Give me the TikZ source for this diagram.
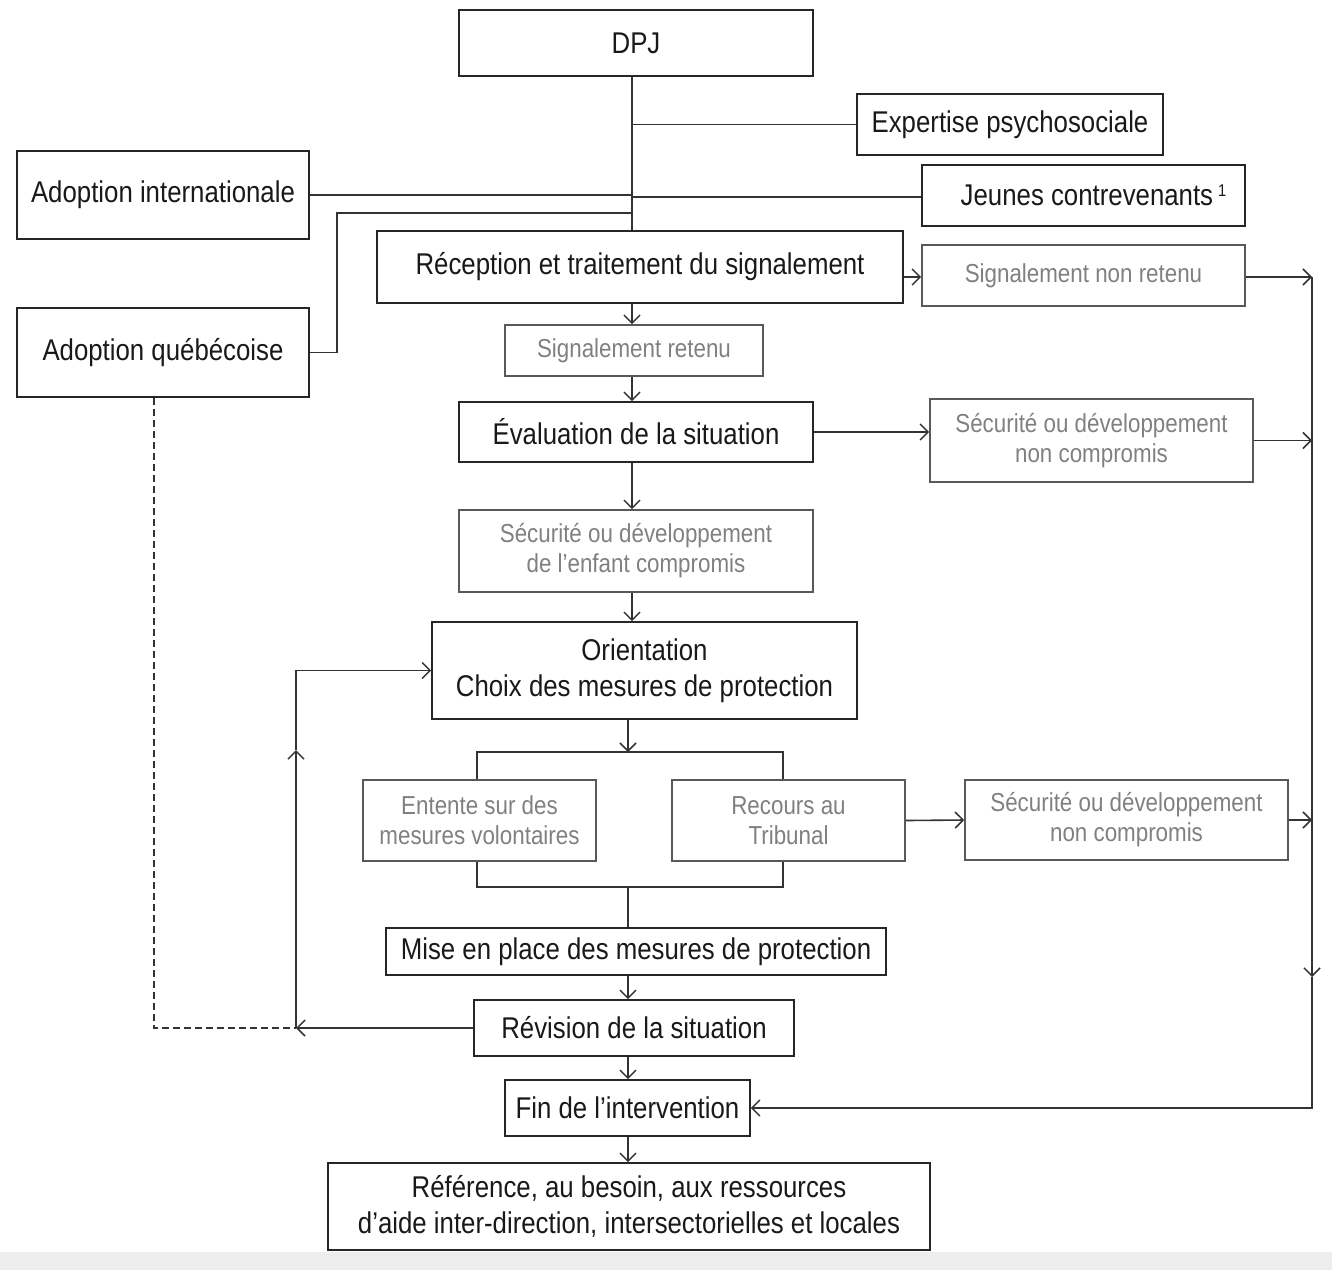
\documentclass[tikz,border=0pt]{standalone}
\usepackage{fontspec}
\setmainfont{Liberation Sans}[FakeStretch=0.86]
\usetikzlibrary{arrows.meta}
\begin{document}
\begin{tikzpicture}[x=1pt,y=-1pt,
  box/.style={draw=black!85, line width=1.6pt, inner sep=0pt, align=center, font=\fontsize{30}{36}\selectfont, text=black!90},
  gbox/.style={draw=black!65, line width=1.6pt, inner sep=0pt, align=center, font=\fontsize{26}{30}\selectfont, text=black!50},
  ln/.style={line width=1.6pt, draw=black!80},
  arr/.style={ln, -{Straight Barb[length=8pt,width=16pt,line width=1.5pt]}},
  dashln/.style={ln, dash pattern=on 7pt off 4pt}]
\useasboundingbox (0,0) rectangle (1332,1270);
\fill[black!7] (0,1252) rectangle (1332,1270);
% nodes
\node[box, minimum width=354pt, minimum height=66pt] (dpj) at (636,43) {DPJ};
\node[box, minimum width=306pt, minimum height=61pt] (exp) at (1010,124.5) {Expertise psychosociale};
\node[box, minimum width=323pt, minimum height=61pt] (jeu) at (1083.5,195.5) {\hspace*{20pt}Jeunes contrevenants\,\raisebox{9pt}{\fontsize{17}{17}\selectfont 1}};
\node[box, minimum width=292pt, minimum height=88pt] (ai) at (163,195) {Adoption internationale};
\node[box, minimum width=292pt, minimum height=89pt] (aq) at (163,352.5) {Adoption québécoise};
\node[box, minimum width=526pt, minimum height=72pt] (rec) at (640,267) {Réception et traitement du signalement};
\node[gbox, minimum width=323pt, minimum height=61pt] (snr) at (1083.5,275.5) {Signalement non retenu};
\node[gbox, minimum width=258pt, minimum height=51pt] (sr) at (634,350.5) {Signalement retenu};
\node[box, minimum width=354pt, minimum height=60pt] (eva) at (636,432) {Évaluation de la situation};
\node[gbox, minimum width=323pt, minimum height=83pt] (snca) at (1091.5,440.5) {Sécurité ou développement\\non compromis};
\node[gbox, minimum width=354pt, minimum height=82pt] (sec) at (636,551) {Sécurité ou développement\\de l’enfant compromis};
\node[box, minimum width=425pt, minimum height=97pt] (ori) at (644.5,670.5) {Orientation\\Choix des mesures de protection};
\node[gbox, minimum width=233pt, minimum height=81pt] (ent) at (479.5,820.5) {Entente sur des\\mesures volontaires};
\node[gbox, minimum width=233pt, minimum height=81pt] (rct) at (788.5,820.5) {Recours au\\Tribunal};
\node[gbox, minimum width=323pt, minimum height=80pt] (sncb) at (1126.5,820) {Sécurité ou développement\\non compromis};
\node[box, minimum width=500pt, minimum height=47pt] (mise) at (636,951.5) {Mise en place des mesures de protection};
\node[box, minimum width=320pt, minimum height=56pt] (rev) at (634,1028) {Révision de la situation};
\node[box, minimum width=245pt, minimum height=56pt] (fin) at (627.5,1108) {Fin de l’intervention};
\node[box, minimum width=602pt, minimum height=87pt] (ref) at (629,1206.5) {Référence, au besoin, aux ressources\\d’aide inter-direction, intersectorielles et locales};
% coordinates
\coordinate (sp) at (632,0);
\coordinate (sl) at (628,0);
\coordinate (R) at (1312,277);
\coordinate (Rm) at (1312,977);
\coordinate (Rb) at (1312,1108);
\coordinate (L) at (296,1028);
\coordinate (Lm) at (296,750);
\coordinate (Lt) at (296,670.5);
\coordinate (bt) at (628,752);
\coordinate (bb) at (628,887);
\coordinate (qa) at (337,213);
\coordinate (dq) at (154,1028);
% top spine
\draw[ln] (dpj.south -| sp) -- (rec.north -| sp);
\draw[ln] (632,124.5) -- (exp.west);
\draw[ln] (ai.east) -- (632,195);
\draw[ln] (632,197) -- (jeu.west |- 0,197);
\draw[ln] (632,213) -- (qa) -- (qa |- aq.east) -- (aq.east);
% main flow
\draw[arr] (rec.south -| sp) -- (sr.north -| sp);
\draw[arr] (sr.south -| sp) -- (eva.north -| sp);
\draw[arr] (eva.south -| sp) -- (sec.north -| sp);
\draw[arr] (sec.south -| sp) -- (ori.north -| sp);
\draw[arr] (ori.south -| sl) -- (bt);
\draw[ln] (ent.north -| 477,0) |- (bt) -| (rct.north -| 783,0);
\draw[ln] (ent.south -| 477,0) |- (bb) -| (rct.south -| 783,0);
\draw[ln] (bb) -- (mise.north -| sl);
\draw[arr] (mise.south -| sl) -- (rev.north -| sl);
\draw[arr] (rev.south -| sl) -- (fin.north -| sl);
\draw[arr] (fin.south -| sl) -- (ref.north -| sl);
% side branches
\draw[arr] (rec.east |- 0,277) -- (snr.west |- 0,277);
\draw[arr] (eva.east) -- (snca.west |- eva.east);
\draw[arr] (rct.east) -- (sncb.west);
\draw[arr] (snr.east |- R) -- (R);
\draw[arr] (snca.east) -- (R |- snca.east);
\draw[arr] (sncb.east) -- (R |- sncb.east);
\draw[arr] (R) -- (Rm);
\draw[arr] (Rm) -- (Rb) -- (fin.east);
% left loop
\draw[arr] (rev.west) -- (L);
\draw[arr] (L) -- (Lm);
\draw[arr] (Lm) -- (Lt) -- (ori.west);
\draw[dashln] (aq.south -| dq) -- (dq) -- (L);
\end{tikzpicture}
\end{document}
